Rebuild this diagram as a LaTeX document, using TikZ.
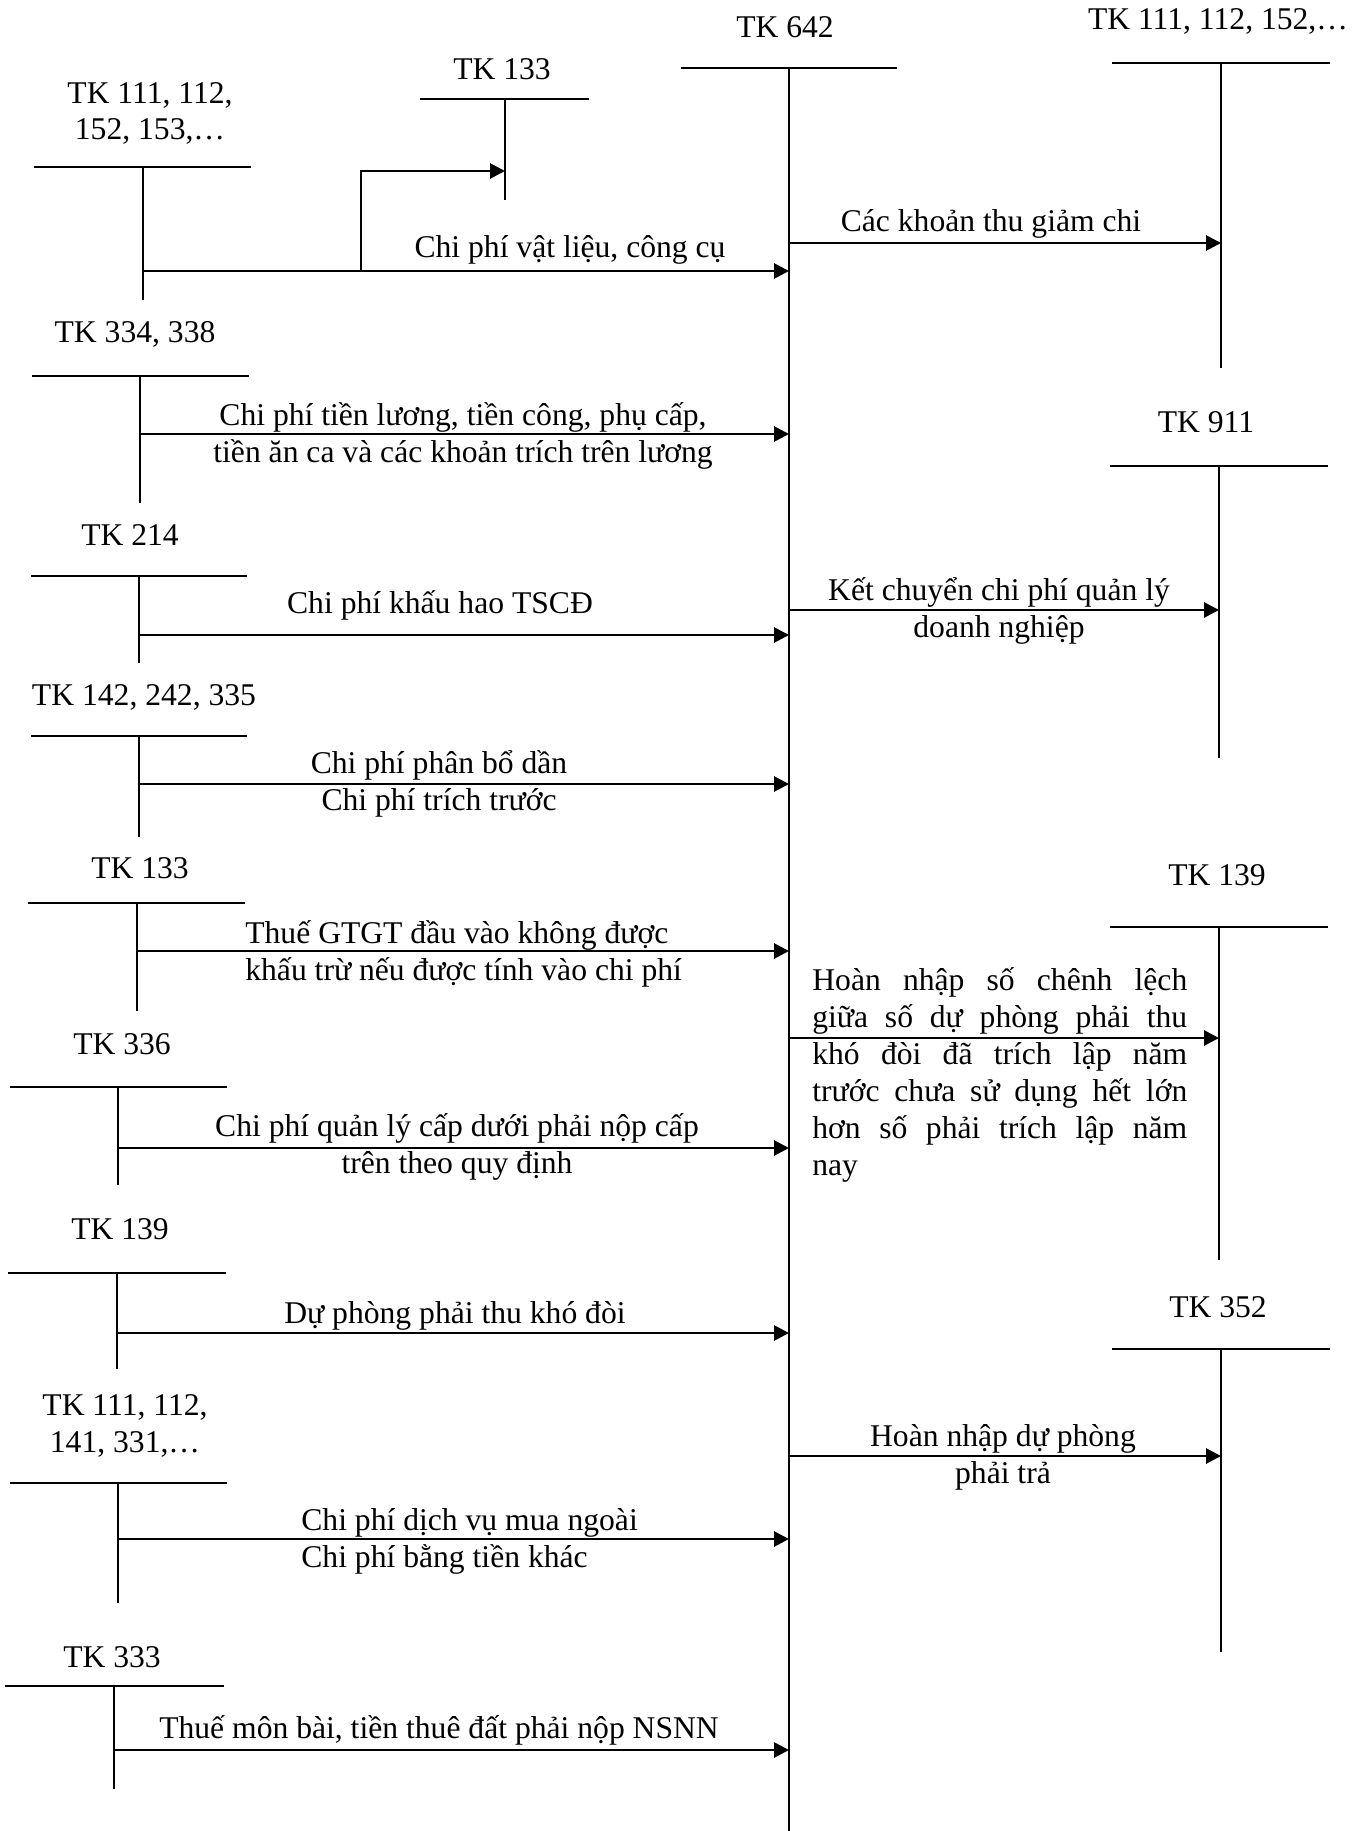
\documentclass[tikz,border=0pt]{standalone}
\usepackage{fontspec}
\setmainfont{Liberation Serif}
\usetikzlibrary{arrows.meta}

\begin{document}
\begin{tikzpicture}[x=0.02cm, y=-0.02cm,
    txt/.style = {font=\fontsize{18}{21}\selectfont, inner sep=0pt, anchor=base, align=center},
    tacc/.style = {line width=1.1pt},
    flow/.style = {line width=1.6pt, -{Triangle[length=3mm, width=3mm]}}]
    \useasboundingbox (0,0) rectangle (1365,1831);

    % TK 642
    \node[txt] (t642) at (785,38) {TK 642};
    \coordinate (k642) at (789,68);
    \draw[tacc] (681,68) -- (897,68) (k642) -- (789,1831);

    % right accounts
    \node[txt] (t111r) at (1218,30) {TK 111, 112, 152,\dots};
    \coordinate (k111r) at (1221,63);
    \draw[tacc] (1112,63) -- (1330,63) (k111r) -- (1221,368);

    \node[txt] (t911) at (1206,432) {TK 911};
    \coordinate (k911) at (1219,466);
    \draw[tacc] (1110,466) -- (1328,466) (k911) -- (1219,758);

    \node[txt] (t139r) at (1217,885) {TK 139};
    \coordinate (k139r) at (1219,927);
    \draw[tacc] (1110,927) -- (1328,927) (k139r) -- (1219,1260);

    \node[txt] (t352) at (1218,1317) {TK 352};
    \coordinate (k352) at (1221,1349);
    \draw[tacc] (1112,1349) -- (1330,1349) (k352) -- (1221,1652);

    % left accounts (base of a two-line text is its last line)
    \node[txt] (t133a) at (502,80) {TK 133};
    \coordinate (k133a) at (505,99);
    \draw[tacc] (420,99) -- (589,99) (k133a) -- (505,200);

    \node[txt] (t111a) at (150,140) {TK 111, 112,\\152, 153,\dots};
    \coordinate (k111a) at (143,167);
    \draw[tacc] (34,167) -- (251,167) (k111a) -- (143,300);

    \node[txt] (t334) at (135,342) {TK 334, 338};
    \coordinate (k334) at (140,376);
    \draw[tacc] (32,376) -- (249,376) (k334) -- (140,503);

    \node[txt] (t214) at (130,545) {TK 214};
    \coordinate (k214) at (139,576);
    \draw[tacc] (31,576) -- (247,576) (k214) -- (139,663);

    \node[txt] (t142) at (144,705) {TK 142, 242, 335};
    \coordinate (k142) at (139,736);
    \draw[tacc] (31,736) -- (247,736) (k142) -- (139,837);

    \node[txt] (t133b) at (140,878) {TK 133};
    \coordinate (k133b) at (137,903);
    \draw[tacc] (28,903) -- (245,903) (k133b) -- (137,1011);

    \node[txt] (t336) at (122,1054) {TK 336};
    \coordinate (k336) at (118,1087);
    \draw[tacc] (10,1087) -- (227,1087) (k336) -- (118,1185);

    \node[txt] (t139l) at (120,1239) {TK 139};
    \coordinate (k139l) at (117,1273);
    \draw[tacc] (8,1273) -- (226,1273) (k139l) -- (117,1369);

    \node[txt] (t111b) at (125,1452) {TK 111, 112,\\141, 331,\dots};
    \coordinate (k111b) at (118,1483);
    \draw[tacc] (10,1483) -- (227,1483) (k111b) -- (118,1603);

    \node[txt] (t333) at (112,1667) {TK 333};
    \coordinate (k333) at (114,1686);
    \draw[tacc] (5,1686) -- (224,1686) (k333) -- (114,1789);

    % arrows into TK 642
    \coordinate (b1) at (361,271);
    \draw[flow] (k111a |- b1) -- (k642 |- b1);
    \draw[flow] (b1) |- (k133a |- 0,171);
    \node[txt] (f1) at (570,258) {Chi phí vật liệu, công cụ};

    \draw[flow] (k334 |- 0,434) -- (k642 |- 0,434);
    \node[txt] (f2) at (463,462) {Chi phí tiền lương, tiền công, phụ cấp,\\tiền ăn ca và các khoản trích trên lương};

    \draw[flow] (k214 |- 0,635) -- (k642 |- 0,635);
    \node[txt] (f3) at (440,613) {Chi phí khấu hao TSCĐ};

    \draw[flow] (k142 |- 0,784) -- (k642 |- 0,784);
    \node[txt] (f4) at (439,810) {Chi phí phân bổ dần\\Chi phí trích trước};

    \draw[flow] (k133b |- 0,951) -- (k642 |- 0,951);
    \node[txt, anchor=base west, align=left] (f5) at (245,980) {Thuế GTGT đầu vào không được\\khấu trừ nếu được tính vào chi phí};

    \draw[flow] (k336 |- 0,1148) -- (k642 |- 0,1148);
    \node[txt] (f6) at (457,1173) {Chi phí quản lý cấp dưới phải nộp cấp\\trên theo quy định};

    \draw[flow] (k139l |- 0,1333) -- (k642 |- 0,1333);
    \node[txt] (f7) at (455,1323) {Dự phòng phải thu khó đòi};

    \draw[flow] (k111b |- 0,1539) -- (k642 |- 0,1539);
    \node[txt, anchor=base west, align=left] (f8) at (301,1567) {Chi phí dịch vụ mua ngoài\\Chi phí bằng tiền khác};

    \draw[flow] (k333 |- 0,1750) -- (k642 |- 0,1750);
    \node[txt] (f9) at (439,1738) {Thuế môn bài, tiền thuê đất phải nộp NSNN};

    % arrows out of TK 642
    \draw[flow] (k642 |- 0,243) -- (k111r |- 0,243);
    \node[txt] (g1) at (991,232) {Các khoản thu giảm chi};

    \draw[flow] (k642 |- 0,610) -- (k911 |- 0,610);
    \node[txt] (g2) at (999,637) {Kết chuyển chi phí quản lý\\doanh nghiệp};

    \draw[flow] (k642 |- 0,1038) -- (k139r |- 0,1038);
    \node[txt, anchor=base west, align=left] (g3) at (812,1175) {\makebox[7.5cm][s]{Hoàn nhập số chênh lệch}\\
        \makebox[7.5cm][s]{giữa số dự phòng phải thu}\\
        \makebox[7.5cm][s]{khó đòi đã trích lập năm}\\
        \makebox[7.5cm][s]{trước chưa sử dụng hết lớn}\\
        \makebox[7.5cm][s]{hơn số phải trích lập năm}\\
        nay};

    \draw[flow] (k642 |- 0,1456) -- (k352 |- 0,1456);
    \node[txt] (g4) at (1003,1483) {Hoàn nhập dự phòng\\phải trả};
\end{tikzpicture}
\end{document}
